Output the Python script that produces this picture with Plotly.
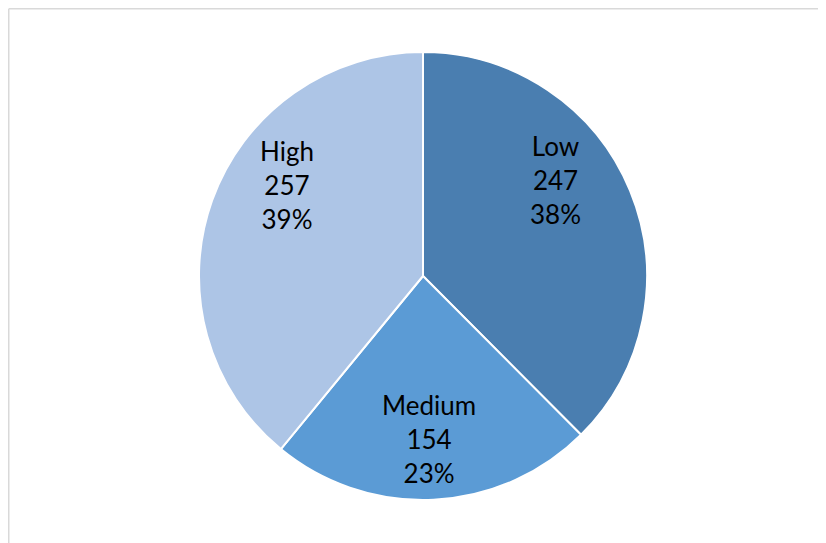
import math
import plotly.graph_objects as go

labels = ["Low", "Medium", "High"]
values = [247, 154, 257]
colors = ["#4A7EB0", "#5B9BD5", "#ADC5E6"]

W, H = 826, 543
# pie centre / radius in figure pixels (page adds an 8px body margin)
cx, cy, r = 415, 268, 224
label_frac = 0.73      # radial placement of the data labels
angle_squeeze = 0.8    # best-fit style: labels pulled toward the vertical axis

fig = go.Figure(go.Pie(
    labels=labels,
    values=values,
    sort=False,
    direction="clockwise",
    rotation=0,
    marker=dict(colors=colors, line=dict(color="white", width=2)),
    textinfo="none",
    domain=dict(x=[(cx - r) / W, (cx + r) / W], y=[1 - (cy + r) / H, 1 - (cy - r) / H]),
    showlegend=False,
    hoverinfo="label+value+percent",
))

# data labels placed from the data (mid-angle of each slice)
total = sum(values)
annotations = []
start = 0.0
for lab, val in zip(labels, values):
    frac = val / total
    mid = (start + frac / 2) * 360.0
    start += frac
    # angle measured from nearest vertical (top or bottom), squeezed
    if mid <= 90:
        ang = mid * angle_squeeze
    elif mid <= 270:
        ang = 180 + (mid - 180) * angle_squeeze
    else:
        ang = 360 - (360 - mid) * angle_squeeze
    a = math.radians(ang)
    px = cx + label_frac * r * math.sin(a)
    py = cy - label_frac * r * math.cos(a)
    annotations.append(dict(
        x=px / W, y=1 - py / H, xref="paper", yref="paper",
        text=f"{lab}<br>{val}<br>{round(frac * 100)}%",
        showarrow=False, xanchor="center", yanchor="middle",
        font=dict(family="Lato", size=26, color="black"),
    ))

border = dict(color="#D9D9D9", width=1.5)
fig.update_layout(
    width=W, height=H,
    margin=dict(l=0, r=0, t=0, b=0),
    paper_bgcolor="white",
    annotations=annotations,
    shapes=[
        dict(type="line", xref="paper", yref="paper",
             x0=0.75 / W, x1=0.75 / W, y0=0, y1=1 - 0.75 / H, line=border),
        dict(type="line", xref="paper", yref="paper",
             x0=0.75 / W, x1=1, y0=1 - 0.75 / H, y1=1 - 0.75 / H, line=border),
    ],
)

fig.write_html("out.html")
